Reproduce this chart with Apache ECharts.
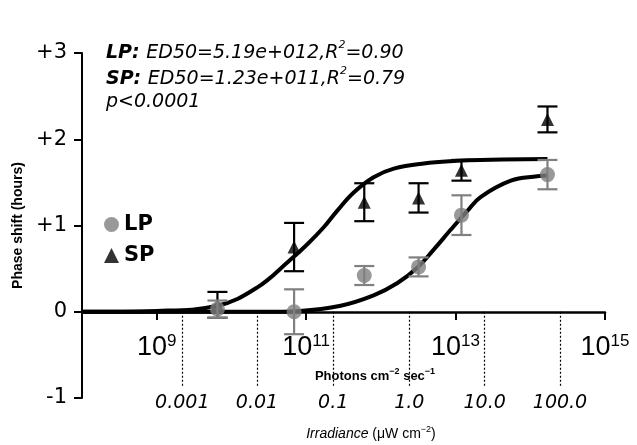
<!DOCTYPE html>
<html>
<head>
<meta charset="utf-8">
<script src="https://cdn.jsdelivr.net/npm/echarts@6/dist/echarts.min.js"></script>
<style>
  html, body { margin: 0; padding: 0; background: #fff; }
  #chart { width: 637px; height: 445px; }
</style>
</head>
<body>
<div id="chart"></div>
<script>
// doses tested (photons cm-2 s-1) and phase shifts (h), mean +/- error
const photons = [6.5e9, 6.9e10, 6.0e11, 3.2e12, 1.2e13, 1.7e14];
const lpMean = [0.03, 0.0, 0.42, 0.52, 1.12, 1.59];
const lpErr = [0.10, 0.26, 0.11, 0.11, 0.23, 0.17];
const spMean = [0.08, 0.75, 1.27, 1.32, 1.64, 2.23];
const spErr = [0.15, 0.28, 0.22, 0.17, 0.12, 0.15];

// fitted dose-response curves
const lpFitX = [1e8, 6.5e9, 2.5e10, 8.3e10, 2.9e11, 8.0e11, 1.65e12, 3.07e12, 5.1e12, 8.6e12, 1.44e13, 2.16e13, 5.5e13, 1.24e14, 1.7e14];
const lpFitY = [0, 0, 0, 0.01, 0.07, 0.19, 0.33, 0.51, 0.72, 0.95, 1.17, 1.33, 1.52, 1.57, 1.58];
const spFitX = [1e8, 1e9, 6.5e9, 2.2e10, 6.1e10, 1.03e11, 1.72e11, 2.6e11, 4.3e11, 8.0e11, 1.49e12, 3.76e12, 1.05e13, 2.16e13, 1.7e14];
const spFitY = [0, 0.01, 0.07, 0.28, 0.60, 0.78, 0.98, 1.17, 1.38, 1.56, 1.66, 1.72, 1.75, 1.76, 1.77];

const photonTicks = [1e9, 1e11, 1e13, 1e15];
const irradianceLabels = ['0.001', '0.01', '0.1', '1.0', '10.0', '100.0'];
const irradiancePhotons = [2.2e9, 2.2e10, 2.3e11, 2.4e12, 2.45e13, 2.5e14];

const chart = echarts.init(document.getElementById('chart'));

const sans = '"DejaVu Sans", sans-serif';
const helv = '"Liberation Sans", Arial, sans-serif';

function zip(xs, ys) {
    return xs.map((x, i) => [x, ys[i]]);
}

function errorBars(name, mean, err, color, z) {
    return {
        type: 'custom',
        name: name + ' err',
        silent: true,
        z: z,
        data: photons.map((x, i) => [x, mean[i] - err[i], mean[i] + err[i]]),
        encode: { x: 0, y: [1, 2] },
        renderItem: function (params, api) {
            const hi = api.coord([api.value(0), api.value(2)]);
            const lo = api.coord([api.value(0), api.value(1)]);
            const half = 10;
            const style = { stroke: color, lineWidth: 2.2 };
            return {
                type: 'group',
                children: [
                    { type: 'line', shape: { x1: hi[0], y1: hi[1], x2: lo[0], y2: lo[1] }, style: style },
                    { type: 'line', shape: { x1: hi[0] - half, y1: hi[1], x2: hi[0] + half, y2: hi[1] }, style: style },
                    { type: 'line', shape: { x1: lo[0] - half, y1: lo[1], x2: lo[0] + half, y2: lo[1] }, style: style }
                ]
            };
        }
    };
}

const annoRich = {
    b: { fontFamily: sans, fontWeight: 'bold', fontStyle: 'italic', fontSize: 19, lineHeight: 26, fill: '#000' },
    n: { fontFamily: sans, fontStyle: 'italic', fontSize: 19, lineHeight: 26, fill: '#000' },
    s: { fontFamily: sans, fontStyle: 'italic', fontSize: 11, lineHeight: 14, verticalAlign: 'top', fill: '#000' }
};

const titleRich = {
    t: { fontFamily: helv, fontWeight: 'bold', fontSize: 13, lineHeight: 18, fill: '#000' },
    ts: { fontFamily: helv, fontWeight: 'bold', fontSize: 9, lineHeight: 12, verticalAlign: 'top', fill: '#000' },
    i: { fontFamily: helv, fontStyle: 'italic', fontSize: 14, lineHeight: 18, fill: '#000' },
    r: { fontFamily: helv, fontSize: 14, lineHeight: 18, fill: '#000' },
    rs: { fontFamily: helv, fontSize: 9, lineHeight: 12, verticalAlign: 'top', fill: '#000' }
};

const option = {
    animation: false,
    backgroundColor: '#fff',
    grid: { left: 82, right: 32, top: 53, bottom: 47 },
    legend: {
        data: ['LP', 'SP'],
        orient: 'vertical',
        left: 104,
        top: 214,
        padding: 0,
        itemWidth: 15,
        itemHeight: 15,
        itemGap: 10,
        textStyle: { fontFamily: sans, fontWeight: 'bold', fontSize: 21, color: '#000' }
    },
    xAxis: {
        type: 'log',
        logBase: 10,
        min: 1e8,
        max: 1.001e15, // a hair over 1e15 so the last tick is kept
        // axis sits on y = 0, moved up from the grid bottom
        offset: -86,
        axisLine: { onZero: false, lineStyle: { color: '#000', width: 2.5 } },
        axisTick: { show: true, customValues: photonTicks, length: 8, lineStyle: { color: '#000', width: 2 } },
        axisLabel: {
            customValues: photonTicks,
            margin: 21,
            formatter: function (v) {
                const e = v > 100 ? Math.round(Math.log10(v)) : Math.round(v);
                return '{b|10}{s|' + e + '}';
            },
            rich: {
                b: { fontFamily: helv, fontSize: 27, lineHeight: 29, color: '#000' },
                s: { fontFamily: helv, fontSize: 17, lineHeight: 17, verticalAlign: 'top', color: '#000' }
            }
        },
        splitLine: { show: false },
        minorTick: { show: false }
    },
    yAxis: {
        type: 'value',
        min: -1,
        max: 3,
        interval: 1,
        name: 'Phase shift (hours)',
        nameLocation: 'middle',
        nameGap: 57,
        nameTextStyle: { fontFamily: helv, fontWeight: 'bold', fontSize: 14, color: '#000' },
        axisLine: { show: true, lineStyle: { color: '#000', width: 2 } },
        axisTick: { show: true, length: 8, lineStyle: { color: '#000', width: 2 } },
        axisLabel: {
            margin: 15,
            color: '#000',
            fontFamily: sans,
            fontSize: 21,
            formatter: v => (v > 0 ? '+' + v : String(v))
        },
        splitLine: { show: false }
    },
    graphic: [
        { type: 'text', left: 106, top: 40, style: { text: '{b|LP: }{n|ED50=5.19e+012,R}{s|2}{n|=0.90}', rich: annoRich } },
        { type: 'text', left: 106, top: 66, style: { text: '{b|SP: }{n|ED50=1.23e+011,R}{s|2}{n|=0.79}', rich: annoRich } },
        { type: 'text', left: 106, top: 93, style: { text: '{n|p<0.0001}', rich: annoRich } },
        { type: 'text', x: 375, y: 376, style: { text: '{t|Photons cm}{ts|−2}{t| sec}{ts|−1}', rich: titleRich, align: 'center', verticalAlign: 'middle' } },
        { type: 'text', x: 371, y: 434, style: { text: '{i|Irradiance}{r| (μW cm}{rs|−2}{r|)}', rich: titleRich, align: 'center', verticalAlign: 'middle' } }
    ],
    series: [
        {
            name: 'LP fit',
            type: 'line',
            data: zip(lpFitX, lpFitY),
            showSymbol: false,
            smooth: 0.4,
            lineStyle: { color: '#000', width: 4 },
            z: 4,
            markLine: {
                silent: true,
                symbol: ['none', 'none'],
                lineStyle: { color: '#000', width: 1.2, type: [2, 2] },
                label: {
                    position: 'end',
                    distance: 7,
                    formatter: '{b}',
                    color: '#000',
                    fontFamily: sans,
                    fontStyle: 'italic',
                    fontSize: 19
                },
                data: irradiancePhotons.map((p, i) => [
                    { name: irradianceLabels[i], coord: [p, 0] },
                    { coord: [p, -0.87] }
                ])
            }
        },
        {
            name: 'SP fit',
            type: 'line',
            data: zip(spFitX, spFitY),
            showSymbol: false,
            smooth: 0.4,
            lineStyle: { color: '#000', width: 4 },
            z: 4
        },
        errorBars('SP', spMean, spErr, '#000', 3),
        {
            name: 'SP',
            type: 'scatter',
            data: zip(photons, spMean),
            symbol: 'triangle',
            symbolSize: 13,
            itemStyle: { color: '#000' },
            z: 5
        },
        errorBars('LP', lpMean, lpErr, '#808080', 6),
        {
            name: 'LP',
            type: 'scatter',
            data: zip(photons, lpMean),
            symbol: 'circle',
            symbolSize: 15,
            itemStyle: { color: '#808080' },
            z: 7
        }
    ]
};

chart.setOption(option);
</script>
</body>
</html>
